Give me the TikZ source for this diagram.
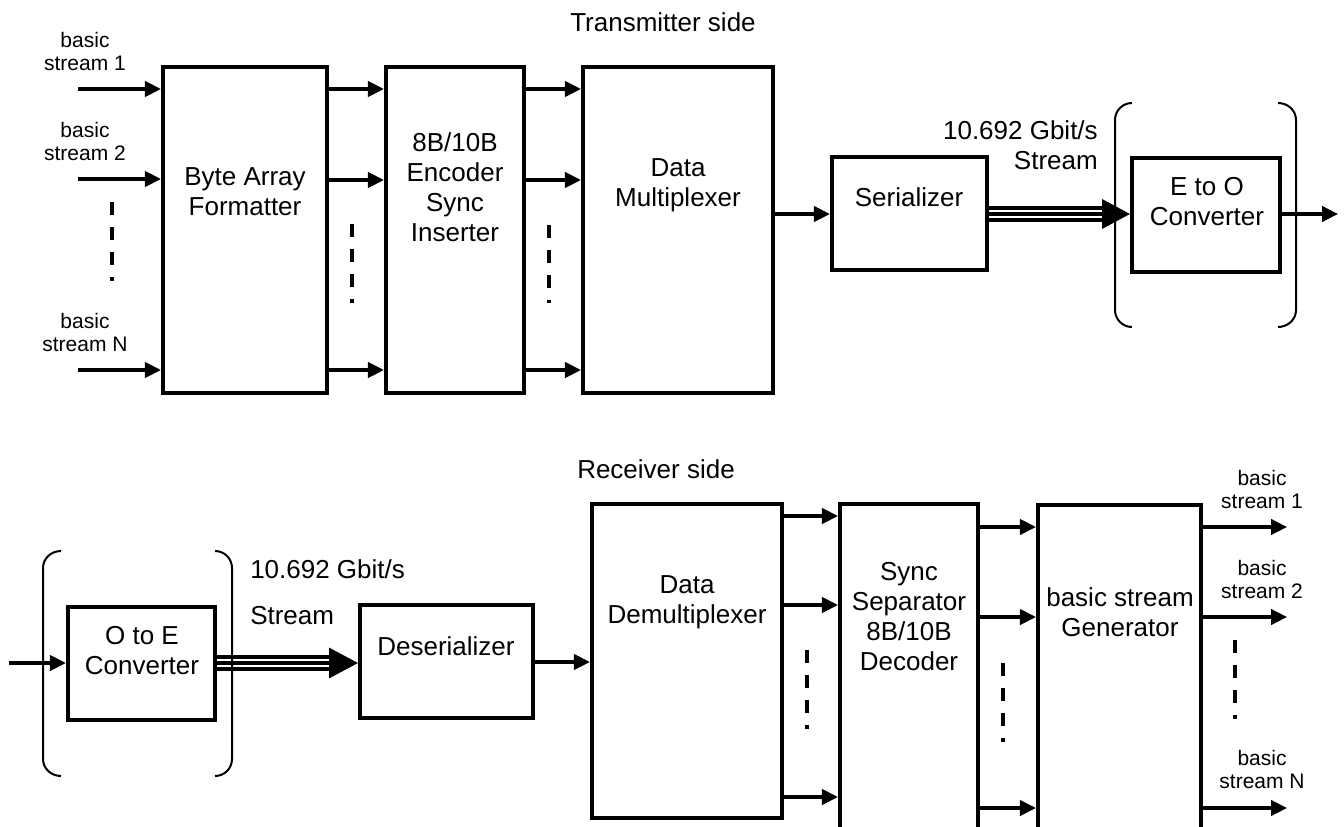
\documentclass[tikz,border=0pt]{standalone}
\usepackage{fontspec}
\setmainfont{Liberation Sans}
\usetikzlibrary{arrows.meta,fit}
\begin{document}
\begin{tikzpicture}[x=0.75pt,y=-0.75pt,
 blk/.style={draw, line width=3.1pt, inner sep=0pt},
 lbl/.style={inner sep=0pt, align=center, font=\fontsize{19.5pt}{22.5pt}\selectfont},
 sml/.style={inner sep=0pt, align=center, font=\fontsize{15.75pt}{17.25pt}\selectfont},
 arr/.style={line width=2.5pt, -{Triangle[length=12pt,width=11.5pt]}},
 dsh/.style={line width=2.6pt, dash pattern=on 9.75pt off 9pt},
 brk/.style={line width=1.5pt},
 tri/.style={line width=3.2pt},
]
\useasboundingbox (0,0) rectangle (1344,827);
\begin{scope}
\clip (0,0) rectangle (1344,827);
% ---------------- Transmitter side ----------------
\node[lbl] (ttx) at (663,22) {Transmitter side};
\node[blk, fit={(163,67) (327,393)}] (baf) {};
\node[blk, fit={(386,67) (524,393)}] (enc) {};
\node[blk, fit={(583,67) (773,393)}] (dm) {};
\node[blk, fit={(832,157) (987,270)}] (ser) {};
\node[blk, fit={(1132,158) (1280,272)}] (eo) {};

\node[lbl] at (baf.north |- 0,192) {Byte Array\\Formatter};
\node[lbl] at (enc.north |- 0,187) {8B/10B\\Encoder\\Sync\\Inserter};
\node[lbl] at (dm.north |- 0,185) {Data\\Multiplexer};
\node[lbl] at (909,197) {Serializer};
\node[lbl] at (1207,202) {E to O\\Converter};
\node[lbl, align=right, anchor=east] (rate1) at (1098,145) {10.692 Gbit/s\\Stream};

\node[sml] (in1) at (85,51.5) {basic\\stream 1};
\node[sml] (in2) at (85,141.5) {basic\\stream 2};
\node[sml] (inN) at (85,332) {basic\\stream N};

\coordinate (s1) at (78,89);
\coordinate (s2) at (78,179);
\coordinate (sN) at (78,370);
\draw[arr] (s1) -- (baf.west |- s1);
\draw[arr] (s2) -- (baf.west |- s2);
\draw[arr] (sN) -- (baf.west |- sN);
\foreach \yy in {89,180,370} {
  \draw[arr] (baf.east |- 0,\yy) -- (enc.west |- 0,\yy);
  \draw[arr] (enc.east |- 0,\yy) -- (dm.west |- 0,\yy);
}
\draw[dsh] (112,202) -- (112,281);
\draw[dsh] (352,224) -- (352,303);
\draw[dsh] (549,225) -- (549,303);

\draw[arr] (dm.east |- 0,214) -- (ser.west |- 0,214);
\coordinate (thA) at (1102,214);
\draw[tri] ([yshift=4.5pt]ser.east |- thA) -- ([yshift=4.5pt]thA);
\draw[tri] (ser.east |- thA) -- (thA);
\draw[tri] ([yshift=-4.5pt]ser.east |- thA) -- ([yshift=-4.5pt]thA);
\fill ([yshift=11.25pt]thA) -- (eo.west |- thA) -- ([yshift=-11.25pt]thA) -- cycle;
\coordinate (outT) at (1338,214);
\draw[arr] (eo.east |- outT) -- (outT);

\draw[brk] (1132,103) to[out=180,in=90] (1115,120) -- (1115,310) to[out=-90,in=180] (1132,327);
\draw[brk] (1278,103) to[out=0,in=90] (1296,120) -- (1296,310) to[out=-90,in=0] (1278,327);

% ---------------- Receiver side ----------------
\node[lbl] (trx) at (656,469) {Receiver side};
\node[blk, fit={(68,607) (215,720)}] (oe) {};
\node[blk, fit={(360,605) (533,718)}] (des) {};
\node[blk, fit={(592,504) (782,818)}] (dd) {};
\node[blk, fit={(840,504) (978,860)}] (ss) {};
\node[blk, fit={(1038,505) (1201,860)}] (gen) {};

\node[lbl] at (142,650.5) {O to E\\Converter};
\node[lbl] at (446,646) {Deserializer};
\node[lbl] at (687,602) {Data\\Demultiplexer};
\node[lbl] at (909,616.5) {Sync\\Separator\\8B/10B\\Decoder};
\node[lbl] at (1120,612.5) {basic stream\\Generator};
\node[lbl, align=left, anchor=north west] (rate2) at (250,559) {10.692 Gbit/s\\[12pt]Stream};

\coordinate (inR) at (9,663);
\draw[arr] (inR) -- (oe.west |- inR);
\coordinate (thB) at (329,663);
\draw[tri] ([yshift=4.5pt]oe.east |- thB) -- ([yshift=4.5pt]thB);
\draw[tri] (oe.east |- thB) -- (thB);
\draw[tri] ([yshift=-4.5pt]oe.east |- thB) -- ([yshift=-4.5pt]thB);
\fill ([yshift=11.6pt]thB) -- (des.west |- thB) -- ([yshift=-11.6pt]thB) -- cycle;
\draw[arr] (des.east |- 0,662) -- (dd.west |- 0,662);

\foreach \yy in {516,605,797} {
  \draw[arr] (dd.east |- 0,\yy) -- (ss.west |- 0,\yy);
}
\foreach \yy in {527,617,808} {
  \draw[arr] (ss.east |- 0,\yy) -- (gen.west |- 0,\yy);
  \draw[arr] (gen.east |- 0,\yy) -- (1287,\yy);
}
\node[sml] (out1) at (1262,489.5) {basic\\stream 1};
\node[sml] (out2) at (1262,579.5) {basic\\stream 2};
\node[sml] (outN) at (1262,769.5) {basic\\stream N};

\draw[dsh] (807,650) -- (807,729);
\draw[dsh] (1003,663) -- (1003,742);
\draw[dsh] (1235,640) -- (1235,719);

\draw[brk] (61,551) to[out=180,in=90] (43,568) -- (43,759) to[out=-90,in=180] (61,776);
\draw[brk] (215,551) to[out=0,in=90] (232,568) -- (232,759) to[out=-90,in=0] (215,776);
\end{scope}
\end{tikzpicture}
\end{document}
